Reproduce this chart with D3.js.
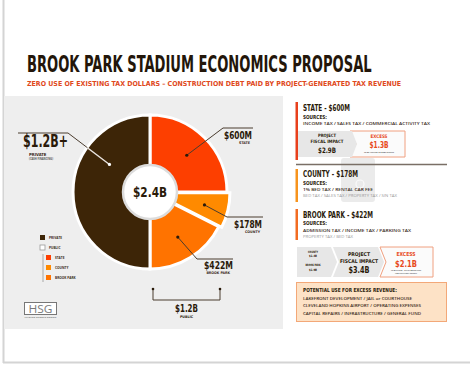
<!DOCTYPE html>
<html><head><meta charset="utf-8">
<script src="https://cdn.jsdelivr.net/npm/d3@7"></script>
<style>body{margin:0;background:#fff}svg{display:block}</style>
</head><body>
<script>
// ---------- data ----------
const categories = ["State", "County", "Brook Park", "Private"];
const values = [600, 178, 422, 1200]; // $M
const valueLabels = ["$600M", "$178M", "$422M", "$1.2B+"];
const subLabels = ["STATE", "COUNTY", "BROOK PARK", "PRIVATE"];
const totalLabel = "$2.4B";
const publicLabel = "$1.2B";
const colors = ["#fd3f00", "#ff8a00", "#ff7300", "#3d2507"];
const legendItems = ["PRIVATE", "PUBLIC", "STATE", "COUNTY", "BROOK PARK"];

const W = 470, H = 365;
const svg = d3.select("body").append("svg").attr("width", W).attr("height", H);
const COND = "'DejaVu Sans Condensed','Liberation Sans Narrow','Roboto Condensed',Arial,sans-serif";
const SANS = "'Open Sans','Noto Sans',Arial,sans-serif";
const DARK = "#2a1a0a";

function txt(x, y, s, size, opt = {}) {
  const t = svg.append("text").attr("x", x).attr("y", y).text(s)
    .attr("font-size", size)
    .attr("font-family", opt.family || COND)
    .attr("font-weight", opt.weight || "bold")
    .attr("fill", opt.color || DARK)
    .attr("text-anchor", opt.anchor || "start");
  if (opt.len) t.attr("textLength", opt.len).attr("lengthAdjust", "spacingAndGlyphs");
  return t;
}
// horizontally scaled text (for wide condensed headlines)
function scaledTxt(x, y, s, size, width, color) {
  const g = svg.append("g");
  const t = g.append("text").attr("x", 0).attr("y", 0).text(s)
    .attr("font-size", size).attr("font-family", COND).attr("font-weight", "bold").attr("fill", color);
  const w = t.node().getComputedTextLength();
  g.attr("transform", `translate(${x},${y}) scale(${width / w},1)`);
  return t;
}

// ---------- frame ----------
svg.append("line").attr("x1", 3.5).attr("x2", 3.5).attr("y1", 0).attr("y2", 363).attr("stroke", "#d4d4d4").attr("stroke-width", 2);
svg.append("line").attr("x1", 3).attr("x2", W).attr("y1", 362.5).attr("y2", 362.5).attr("stroke", "#d4d4d4").attr("stroke-width", 2);

// ---------- title ----------
scaledTxt(27, 72, "BROOK PARK STADIUM ECONOMICS PROPOSAL", 22.5, 345, "#23160a");
scaledTxt(27, 86, "ZERO USE OF EXISTING TAX DOLLARS – CONSTRUCTION DEBT PAID BY PROJECT-GENERATED TAX REVENUE", 6.8, 375, "#e0491c");

// ---------- left panel ----------
svg.append("rect").attr("x", 4).attr("y", 96).attr("width", 279).attr("height", 233).attr("fill", "#eeeeee");

const cx = 150, cy = 192, R = 77, hole = 27;
const g = svg.append("g").attr("transform", `translate(${cx},${cy})`);
const pie = d3.pie().sort(null).value(d => d).startAngle(0).endAngle(2 * Math.PI);
const arcs = pie(values);
const arc = d3.arc().innerRadius(0).outerRadius(R);
const explode = [0, 3, 0, 0];

svg.append("clipPath").attr("id", "privClip").append("path")
  .attr("transform", `translate(${cx},${cy})`).attr("d", arc(arcs[3]));

g.selectAll("path.slice").data(arcs).join("path").attr("class", "slice")
  .attr("d", arc)
  .attr("fill", (d, i) => colors[i])
  .attr("stroke", "#ffffff").attr("stroke-width", 3).attr("stroke-linejoin", "miter")
  .attr("transform", (d, i) => {
    const a = (d.startAngle + d.endAngle) / 2;
    return `translate(${Math.sin(a) * explode[i]},${-Math.cos(a) * explode[i]})`;
  });

g.append("circle").attr("r", hole).attr("fill", "#fff").attr("stroke", "#dcdcdc").attr("stroke-width", 2.5);
g.append("text").attr("y", 5).attr("text-anchor", "middle").attr("font-family", COND).attr("font-weight", "bold")
  .attr("font-size", 14).attr("fill", DARK).text(totalLabel).attr("textLength", 34).attr("lengthAdjust", "spacingAndGlyphs");

// callouts
const anchorFrac = [0.5, 0.5, 0.5, 0.69];
const anchorR = [52, 56, 53, 49];
const elbows = [[223, 128, 253], [227, 217, 263], [197, 259, 233], [68, 133, 18]];
const labelPos = [
  { x: 252, y: 139, a: "end", size: 11, len: 28, sx: 250, sy: 144 },
  { x: 262, y: 228, a: "end", size: 11, len: 28, sx: 260, sy: 233 },
  { x: 233, y: 269, a: "end", size: 11, len: 29, sx: 230, sy: 274 },
  { x: 23, y: 147, a: "start", size: 17.5, len: 45, sx: 29, sy: 155.5 }
];
arcs.forEach((d, i) => {
  const ang = d.startAngle + (d.endAngle - d.startAngle) * anchorFrac[i];
  const px = cx + Math.sin(ang) * anchorR[i], py = cy - Math.cos(ang) * anchorR[i];
  const [ex, ey, hx] = elbows[i];
  const pts = `M${px},${py}L${ex},${ey}L${hx},${ey}`;
  svg.append("path").attr("d", pts).attr("fill", "none").attr("stroke", "#4a3c2e").attr("stroke-width", 1);
  if (i === 3) {
    svg.append("path").attr("d", pts).attr("fill", "none").attr("stroke", "#e8e2dc").attr("stroke-width", 1.4)
      .attr("clip-path", "url(#privClip)");
  }
  svg.append("circle").attr("cx", px).attr("cy", py).attr("r", 1.6).attr("fill", i === 3 ? "#fff" : "#2a1a0a");
  const L = labelPos[i];
  txt(L.x, L.y, valueLabels[i], L.size, { anchor: L.a, len: L.len });
  txt(L.sx, L.sy, subLabels[i], i === 3 ? 4.2 : 3.6, { anchor: i === 3 ? "start" : "end", color: "#3a2a1a" });
});
txt(29, 159.5, "(CASH FINANCING)", 2.6, { color: "#555", family: SANS });

// public bracket
svg.append("path").attr("d", "M153,289V300H220V289").attr("fill", "none").attr("stroke", "#4a3c2e").attr("stroke-width", 1);
[153, 220].forEach(x => svg.append("circle").attr("cx", x).attr("cy", 289).attr("r", 1.3).attr("fill", "#2a1a0a"));
txt(186.5, 312, publicLabel, 10.5, { anchor: "middle", len: 23 });
txt(186.5, 317.5, "PUBLIC", 3.6, { anchor: "middle" });

// legend
const legY = [235, 245, 255, 265, 275];
const legX = [40, 40, 46, 46, 46];
const legFill = [colors[3], "#ffffff", colors[0], colors[1], colors[2]];
svg.append("line").attr("x1", 43).attr("x2", 43).attr("y1", 254).attr("y2", 282).attr("stroke", "#a8a8a8").attr("stroke-width", 1);
legendItems.forEach((s, i) => {
  svg.append("rect").attr("x", legX[i]).attr("y", legY[i]).attr("width", 5).attr("height", 5)
    .attr("fill", legFill[i]).attr("stroke", i === 1 ? "#999" : "none").attr("stroke-width", 0.8);
  txt(legX[i] + 9, legY[i] + 4, s, 3.2, { color: "#3a2a1a", family: SANS });
});

// HSG logo
svg.append("rect").attr("x", 24.5).attr("y", 302.5).attr("width", 32).attr("height", 12).attr("fill", "#fff").attr("stroke", "#777").attr("stroke-width", 1);
txt(40.5, 312.5, "HSG", 10, { anchor: "middle", color: "#7a7a7a", family: SANS, weight: "normal", len: 24 });
txt(40.5, 318, "HAGLER SPORTS GROUP", 2.2, { anchor: "middle", color: "#777", family: SANS, len: 32 });

// ---------- right column ----------
// faint ghost artefact
svg.append("rect").attr("x", 341).attr("y", 158).attr("width", 34).attr("height", 44).attr("rx", 3).attr("fill", "#ebebeb");
svg.append("circle").attr("cx", 360).attr("cy", 184).attr("r", 4).attr("fill", "none").attr("stroke", "#fafafa").attr("stroke-width", 1.2);

svg.append("rect").attr("x", 295.5).attr("y", 102).attr("width", 2.5).attr("height", 58).attr("fill", "#e8401c");
svg.append("rect").attr("x", 295.5).attr("y", 169).attr("width", 2.5).attr("height", 33).attr("fill", "#f7941d");
svg.append("rect").attr("x", 295.5).attr("y", 209).attr("width", 2.5).attr("height", 31).attr("fill", "#f26c22");
svg.append("line").attr("x1", 296).attr("x2", 447).attr("y1", 164.5).attr("y2", 164.5).attr("stroke", "#7a6f66").attr("stroke-width", 1.5);

txt(303, 111, "STATE - $600M", 8.5, { len: 47 });
txt(303, 119, "SOURCES:", 5.5, { len: 24 });
txt(303, 125, "INCOME TAX / SALES TAX / COMMERCIAL ACTIVITY TAX", 4, { len: 127, family: SANS, weight: 600, color: "#3a2a1a" });

txt(303, 177, "COUNTY - $178M", 8.5, { len: 55 });
txt(303, 185, "SOURCES:", 5.5, { len: 24 });
txt(303, 191, "1% BED TAX / RENTAL CAR FEE", 4, { len: 70, family: SANS, weight: 600, color: "#3a2a1a" });
txt(303, 197, "BED TAX / SALES TAX / PROPERTY TAX / SIN TAX", 3.8, { len: 94, family: SANS, weight: "normal", color: "#9a9a9a" });

txt(303, 218, "BROOK PARK - $422M", 8.5, { len: 70 });
txt(303, 225, "SOURCES:", 5.5, { len: 24 });
txt(303, 232, "ADMISSION TAX / INCOME TAX / PARKING TAX", 4.2, { len: 108, family: SANS, weight: 600, color: "#3a2a1a" });
txt(303, 238, "PROPERTY TAX / BED TAX", 3.8, { len: 50, family: SANS, weight: "normal", color: "#9a9a9a" });

// state chevrons
svg.append("path").attr("d", "M350,131H405V157H350L356,144Z").attr("fill", "#fbfbfb").attr("stroke", "#f0a080").attr("stroke-width", 1);
svg.append("path").attr("d", "M298,131H352L357,144L352,157H298Z").attr("fill", "#e7e7e7");
txt(327, 137, "PROJECT", 4.5, { anchor: "middle", len: 18 });
txt(327, 142.5, "FISCAL IMPACT", 4.5, { anchor: "middle", len: 33 });
txt(327, 152.5, "$2.9B", 7.5, { anchor: "middle", len: 18 });
txt(379, 138, "EXCESS", 4.8, { anchor: "middle", len: 17, color: "#e84a1c" });
txt(379, 148, "$1.3B", 8, { anchor: "middle", len: 19, color: "#e84a1c" });
txt(379, 153, "TO BE APPLIED TO DEBT SERVICE", 1.8, { anchor: "middle", len: 30, family: SANS, color: "#555" });

// brook park chevrons
svg.append("path").attr("d", "M380,247H433V277H380L386,262Z").attr("fill", "#fbfbfb").attr("stroke", "#f0a080").attr("stroke-width", 1);
svg.append("path").attr("d", "M297,247H331L337,262L331,277H297Z").attr("fill", "#e7e7e7");
svg.append("path").attr("d", "M333,247H378L384,262L378,277H333L339,262Z").attr("fill", "#e7e7e7");
txt(313, 252.5, "COUNTY", 3, { anchor: "middle", len: 10 });
txt(313, 257, "$1.4B", 3.2, { anchor: "middle", len: 8 });
txt(313, 266, "BROOK PARK", 3, { anchor: "middle", len: 15 });
txt(313, 270.5, "$1.9B", 3.2, { anchor: "middle", len: 8 });
txt(359, 256, "PROJECT", 5.2, { anchor: "middle", len: 22 });
txt(359, 263, "FISCAL IMPACT", 5.2, { anchor: "middle", len: 38 });
txt(359, 273, "$3.4B", 8.5, { anchor: "middle", len: 21 });
txt(406, 256, "EXCESS", 5.5, { anchor: "middle", len: 19, color: "#e84a1c" });
txt(406, 266.5, "$2.1B", 9.5, { anchor: "middle", len: 22, color: "#e84a1c" });
txt(406, 271, "TO BE SHARED - CITY OF BROOK PARK", 1.8, { anchor: "middle", len: 30, family: SANS, color: "#555" });
txt(406, 273.5, "AND CUYAHOGA COUNTY", 1.8, { anchor: "middle", len: 22, family: SANS, color: "#555" });

// excess use box
svg.append("rect").attr("x", 296.5).attr("y", 282.5).attr("width", 150).attr("height", 39).attr("fill", "#fde2c6").attr("stroke", "#f3a878").attr("stroke-width", 1);
txt(303, 292, "POTENTIAL USE FOR EXCESS REVENUE:", 5.5, { len: 94 });
txt(303, 299.5, "LAKEFRONT DEVELOPMENT / JAIL or COURTHOUSE", 4.2, { len: 109, family: SANS, weight: 600, color: "#3a2a1a" });
txt(303, 307, "CLEVELAND HOPKINS AIRPORT / OPERATING EXPENSES", 4.2, { len: 118, family: SANS, weight: 600, color: "#3a2a1a" });
txt(303, 314.5, "CAPITAL REPAIRS / INFRASTRUCTURE / GENERAL FUND", 4.2, { len: 118, family: SANS, weight: 600, color: "#3a2a1a" });
</script>
</body></html>
